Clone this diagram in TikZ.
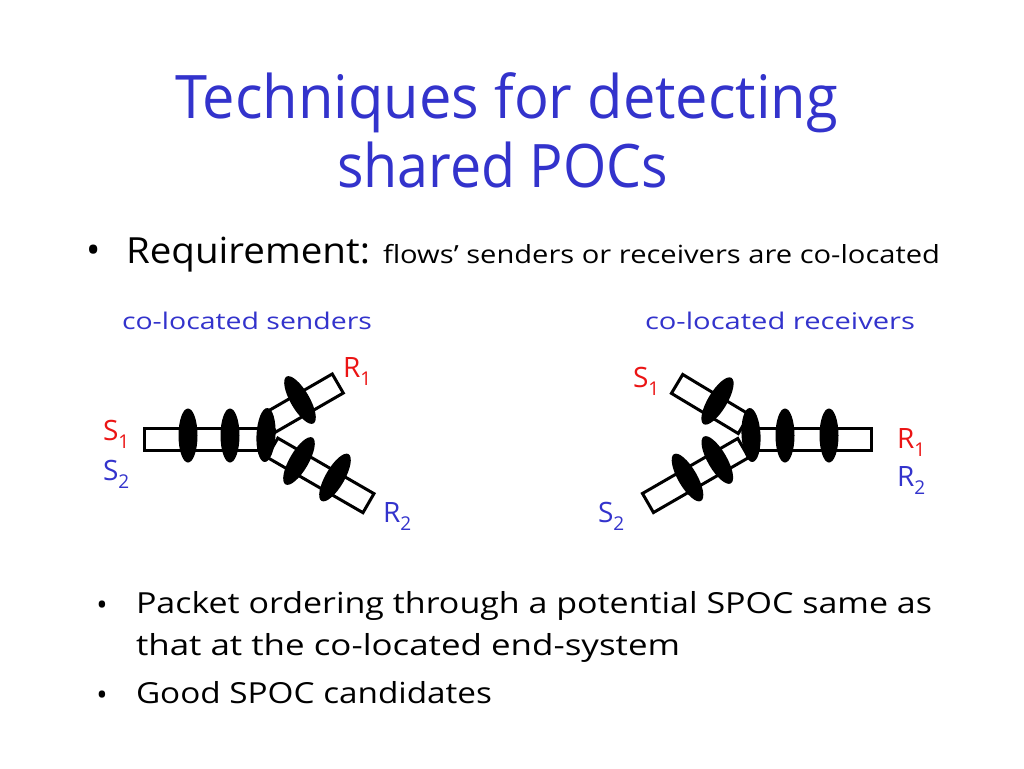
\documentclass[tikz,border=0pt]{standalone}
\usepackage{fontspec}
\setmainfont{Open Sans}
\usepackage{graphicx}
\usetikzlibrary{shapes.geometric}
\definecolor{ttlblue}{RGB}{51,51,204}
\definecolor{lblred}{RGB}{235,20,20}
\newcommand{\fitw}[3]{\resizebox{#1pt}{\height}{\fontsize{#2pt}{#2pt}\selectfont #3}}
\newcommand{\lbl}[2]{#1\raisebox{-0.3em}{\fontsize{19pt}{19pt}\selectfont #2}}
\begin{document}
\begin{tikzpicture}[x=1pt,y=-1pt,
  tube/.style={draw=black, fill=white, line width=3pt, rectangle, minimum height=22pt, inner sep=0pt, outer sep=0pt},
  pkt/.style={ellipse, fill=black, draw=none, minimum width=19pt, minimum height=54pt, inner sep=0pt},
  txt/.style={anchor=base west, inner sep=0pt, outer sep=0pt},
  lab/.style={anchor=base west, inner sep=0pt, outer sep=0pt, font=\fontsize{28pt}{28pt}\selectfont},
  bul/.style={anchor=base, inner sep=0pt, outer sep=0pt}]
\path[use as bounding box, fill=white] (0,0) rectangle (1024,768);

% title
\node[txt, text=ttlblue] (title1) at (175,118) {\fitw{663}{60}{Techniques for detecting}};
\node[txt, text=ttlblue] (title2) at (337,187) {\fitw{331}{60}{shared POCs}};

% requirement line
\node[bul] (b0) at (94,263) {\fontsize{38pt}{38pt}\selectfont •};
\node[txt] (req) at (126,263) {\fitw{244}{36}{Requirement:}};
\node[txt] (reqtxt) at (383,263) {\fitw{557}{25}{flows’ senders or receivers are co-located}};

% captions
\node[txt, text=ttlblue] (capl) at (122,329) {\fitw{250}{23}{co-located senders}};
\node[txt, text=ttlblue] (capr) at (645,329) {\fitw{270}{23}{co-located receivers}};

% left diagram: co-located senders
\node[tube, minimum width=78pt, rotate=30] (lup) at (304,403) {};
\node[tube, minimum width=111pt, rotate=-30] (ldn) at (320.4,475.4) {};
\node[tube, minimum width=126pt] (lmain) at (207,439.5) {};
\node[pkt] (lp1) at (188,435.5) {};
\node[pkt] (lp2) at (230,435.5) {};
\node[pkt, rotate=-3] (lp3) at (266,435) {};
\node[pkt, rotate=30] (lp4) at (300,400) {};
\node[pkt, rotate=-30] (lp5) at (299,461) {};
\node[pkt, rotate=-30] (lp6) at (335,477.5) {};
\node[lab, text=lblred] (ls1) at (103,440) {\lbl{S}{1}};
\node[lab, text=ttlblue] (ls2) at (103,480) {\lbl{S}{2}};
\node[lab, text=lblred] (lr1) at (343,377) {\lbl{R}{1}};
\node[lab, text=ttlblue] (lr2) at (383,522) {\lbl{R}{2}};

% right diagram: co-located receivers
\node[tube, minimum width=78pt, rotate=-31] (rup) at (710.5,404) {};
\node[tube, minimum width=110pt, rotate=30] (rdn) at (695.6,475.5) {};
\node[tube, minimum width=123pt] (rmain) at (809.5,439.5) {};
\node[pkt, rotate=3] (rp1) at (751,435) {};
\node[pkt] (rp2) at (785,435.5) {};
\node[pkt] (rp3) at (829,435.5) {};
\node[pkt, rotate=-31] (rp4) at (717.5,401) {};
\node[pkt, rotate=30] (rp5) at (717.3,460) {};
\node[pkt, rotate=30] (rp6) at (687.5,477.5) {};
\node[lab, text=lblred] (rs1) at (633,387) {\lbl{S}{1}};
\node[lab, text=lblred] (rr1) at (897,448) {\lbl{R}{1}};
\node[lab, text=ttlblue] (rr2) at (897,486) {\lbl{R}{2}};
\node[lab, text=ttlblue] (rs2) at (598,522) {\lbl{S}{2}};

% bottom bullets
\node[bul] (b1) at (102,615) {\fontsize{30pt}{30pt}\selectfont •};
\node[txt] (l1) at (136,613) {\fitw{796}{29}{Packet ordering through a potential SPOC same as}};
\node[txt] (l2) at (136,655) {\fitw{544}{29}{that at the co-located end-system}};
\node[bul] (b2) at (102,705) {\fontsize{30pt}{30pt}\selectfont •};
\node[txt] (l3) at (136,703) {\fitw{356}{29}{Good SPOC candidates}};
\end{tikzpicture}
\end{document}
